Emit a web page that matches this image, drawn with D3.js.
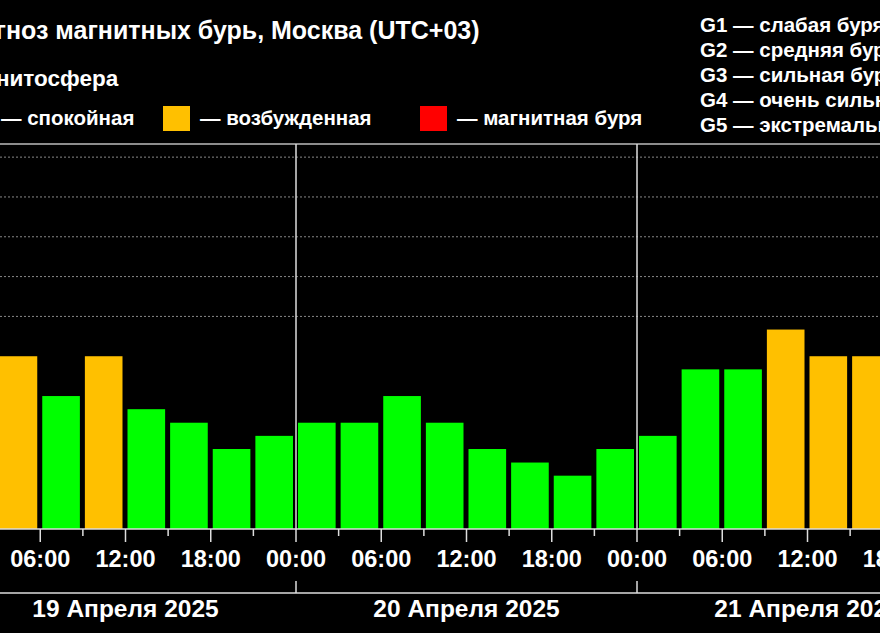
<!DOCTYPE html>
<html><head><meta charset="utf-8">
<script src="https://cdn.jsdelivr.net/npm/d3@7"></script>
<style>body{margin:0;background:#000}svg{display:block}text{font-family:"Liberation Sans",Arial,sans-serif;font-weight:bold;fill:#fff}</style>
</head><body><svg id="c" width="880" height="633"></svg>
<script>
const days = ["19 Апреля 2025","20 Апреля 2025","21 Апреля 2025"];
// Kp forecast per 3-hour interval (index 0 = 00-03 of day 1); null = not visible
const kp = [null,4,3,4,2.67,2.33,1.67,2,
            2.33,2.33,3,2.33,1.67,1.33,1,1.67,
            2,3.67,3.67,4.67,4,4];
const hourLabels = ["00:00","06:00","12:00","18:00"];
const gLevels = ["G1 — слабая буря","G2 — средняя буря","G3 — сильная буря","G4 — очень сильная буря","G5 — экстремальная буря"];
const legendItems = [["— спокойная","#00ff00"],["— возбужденная","#ffc000"],["— магнитная буря","#ff0000"]];

const svg = d3.select("#c");
const x0 = -45, dayW = 341;
const x = d3.scaleLinear().domain([0, 72]).range([x0, x0 + 3*dayW]);
const y = d3.scaleLinear().domain([0, 9.33]).range([515.5, 144]);
const base = 529;
const color = v => v >= 5 ? "#ff0000" : v >= 4 ? "#ffc000" : "#00ff00";

svg.append("line").attr("x1",0).attr("x2",880).attr("y1",144).attr("y2",144).attr("stroke","#bbb").attr("stroke-width",1.5);
[5,6,7,8,9].forEach(k=>svg.append("line").attr("x1",0).attr("x2",880).attr("y1",y(k)).attr("y2",y(k))
  .attr("stroke","#888").attr("stroke-dasharray","2,2"));

svg.selectAll("rect.bar").data(kp.map((v,i)=>({v,i})).filter(d=>d.v!=null)).enter().append("rect")
  .attr("x",d=>x(d.i*3)+2).attr("width",x(3)-x(0)-5)
  .attr("y",d=>y(d.v)).attr("height",d=>base-y(d.v)).attr("fill",d=>color(d.v));

svg.append("line").attr("x1",0).attr("x2",880).attr("y1",base).attr("y2",base).attr("stroke","#ddd").attr("stroke-width",1.5);
d3.range(0,73,3).forEach(h=>{
  const major = h%6===0;
  svg.append("line").attr("x1",x(h)).attr("x2",x(h)).attr("y1",base).attr("y2",base+(major?13:7)).attr("stroke","#ddd").attr("stroke-width",1.5);
  if(major) svg.append("text").attr("x",x(h)).attr("y",567).attr("text-anchor","middle").attr("font-size",23.5).text(hourLabels[(h%24)/6]);
});
[1,2].forEach(d=>{
  svg.append("line").attr("x1",x(d*24)).attr("x2",x(d*24)).attr("y1",144).attr("y2",base).attr("stroke","#ddd").attr("stroke-width",1.5);
  svg.append("line").attr("x1",x(d*24)).attr("x2",x(d*24)).attr("y1",581).attr("y2",593).attr("stroke","#ddd").attr("stroke-width",1.5);
});
svg.append("line").attr("x1",0).attr("x2",880).attr("y1",593).attr("y2",593).attr("stroke","#ddd").attr("stroke-width",1.5);
days.forEach((d,i)=>svg.append("text").attr("x",x(i*24+12)).attr("y",617).attr("text-anchor","middle").attr("font-size",24.5).text(d));

svg.append("text").attr("x",-53).attr("y",39).attr("font-size",25).text("Прогноз магнитных бурь, Москва (UTC+03)");
svg.append("text").attr("x",-45).attr("y",86).attr("font-size",22.5).text("Магнитосфера");
const lx = [-36,163,420];
legendItems.forEach((it,i)=>{
  svg.append("rect").attr("x",lx[i]).attr("y",106).attr("width",27).attr("height",25).attr("fill",it[1]);
  svg.append("text").attr("x",lx[i]+37).attr("y",125).attr("font-size",20.5).text(it[0]);
});
gLevels.forEach((g,i)=>svg.append("text").attr("x",700).attr("y",32+i*25).attr("font-size",20.5).text(g));
</script></body></html>
